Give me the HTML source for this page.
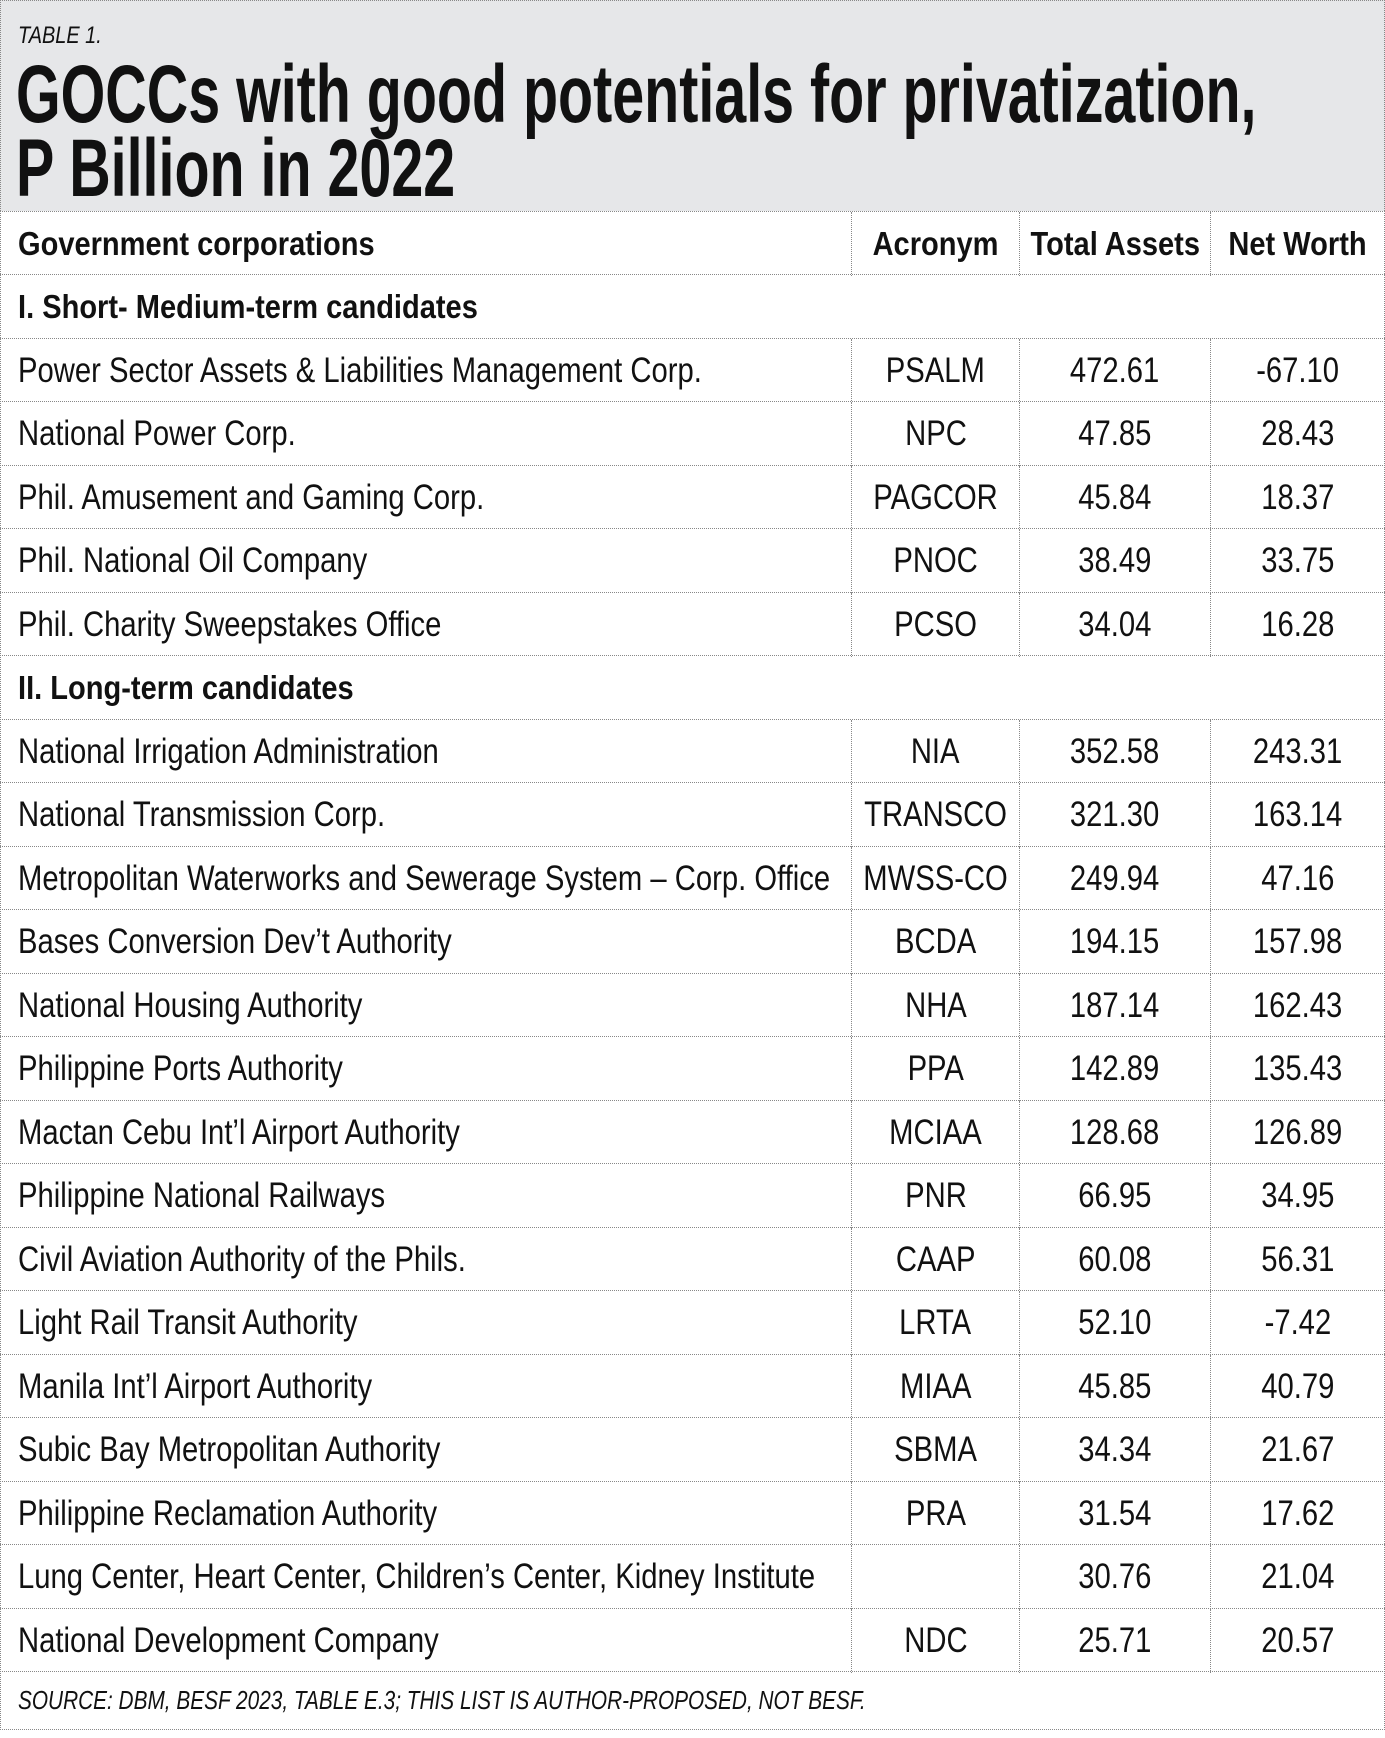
<!DOCTYPE html>
<html><head><meta charset="utf-8">
<style>
body{margin:0;background:#fff;}
#wrap{position:relative;width:1385px;height:1738px;background:#fff;font-family:"Liberation Sans",sans-serif;color:#111;overflow:hidden}
.hd{position:absolute;left:0;top:0;width:1383px;height:210px;background:#e6e7e9;border:1px dotted #888;border-bottom:none}
.s{display:inline-block;white-space:nowrap;transform-origin:left center}
.c{position:absolute;display:flex;align-items:center;white-space:nowrap}
.row{position:absolute;left:0;width:1385px;height:63px;border-top:1px dotted #888}
.cell{position:absolute;top:0;height:64px;display:flex;align-items:center;font-size:35px}
.cell .s{transform:scaleX(.835)}
.l{left:18px}
.m{justify-content:center;border-left:1px dotted #888;box-sizing:border-box}
.a{left:851px;width:168px}
.t{left:1019px;width:191px}
.n{left:1210px;width:175px}
.m .s{transform-origin:center center}
.b{font-weight:bold;font-size:33px}
.b .s{transform:scaleX(.88)}
.vl{position:absolute;top:211px;height:1460px;border-left:1px dotted #888}
</style></head>
<body>
<div id="wrap">
<div class="hd"></div>
<div class="c" style="left:18px;top:22px;height:28px;font-size:24px;font-style:italic"><span class="s" style="transform:scaleX(.83)">TABLE 1.</span></div>
<div class="c" style="left:16px;top:50px;height:90px;font-size:82px;font-weight:bold"><span class="s" style="transform:scaleX(.70)">GOCCs with good potentials for privatization,</span></div>
<div class="c" style="left:16px;top:124px;height:90px;font-size:82px;font-weight:bold"><span class="s" style="transform:scaleX(.70)">P Billion in 2022</span></div>

<div id="rows"></div>
<div class="vl" style="left:0;height:1517px"></div>
<div class="vl" style="left:1384px;height:1517px"></div>
<div class="row" style="top:1671px;height:57px;border-bottom:1px dotted #888">
 <div class="cell l" style="height:57px;font-size:26px;font-style:italic"><span class="s" style="transform:scaleX(.8)">SOURCE: DBM, BESF 2023, TABLE E.3; THIS LIST IS AUTHOR-PROPOSED, NOT BESF.</span></div>
</div>
</div>
<script>
const names=["Power Sector Assets & Liabilities Management Corp.","National Power Corp.","Phil. Amusement and Gaming Corp.","Phil. National Oil Company","Phil. Charity Sweepstakes Office",null,"National Irrigation Administration","National Transmission Corp.","Metropolitan Waterworks and Sewerage System – Corp. Office","Bases Conversion Dev’t Authority","National Housing Authority","Philippine Ports Authority","Mactan Cebu Int’l Airport Authority","Philippine National Railways","Civil Aviation Authority of the Phils.","Light Rail Transit Authority","Manila Int’l Airport Authority","Subic Bay Metropolitan Authority","Philippine Reclamation Authority","Lung Center, Heart Center, Children’s Center, Kidney Institute","National Development Company"];
const acr=["PSALM","NPC","PAGCOR","PNOC","PCSO",null,"NIA","TRANSCO","MWSS-CO","BCDA","NHA","PPA","MCIAA","PNR","CAAP","LRTA","MIAA","SBMA","PRA","","NDC"];
const assets=["472.61","47.85","45.84","38.49","34.04",null,"352.58","321.30","249.94","194.15","187.14","142.89","128.68","66.95","60.08","52.10","45.85","34.34","31.54","30.76","25.71"];
const worth=["-67.10","28.43","18.37","33.75","16.28",null,"243.31","163.14","47.16","157.98","162.43","135.43","126.89","34.95","56.31","-7.42","40.79","21.67","17.62","21.04","20.57"];
const rows=document.getElementById('rows');
const rh=63.5;
function mk(top,name){const r=document.createElement('div');r.className='row';r.style.top=top+'px';


rows.appendChild(r);return r;}
function cell(r,cls,txt,name){const d=document.createElement('div');d.className='cell '+cls;


const s=document.createElement('span');s.className='s';s.textContent=txt;d.appendChild(s);r.appendChild(d);}
let h=mk(211,'header-row');
cell(h,'l b','Government corporations','col-header-name');
cell(h,'a m b','Acronym','col-header-acronym');
cell(h,'t m b','Total Assets','col-header-assets');
cell(h,'n m b','Net Worth','col-header-networth');
let s1=mk(274,'section-row');
cell(s1,'l b','I. Short- Medium-term candidates','section-label');
names.forEach((n,i)=>{
 const top=Math.round(274+rh*(i+1));
 if(n===null){const r=mk(top,'section-row');cell(r,'l b','II. Long-term candidates','section-label');return;}
 const r=mk(top,'data-row');
 cell(r,'l',n,'corp-name');
 cell(r,'a m',acr[i],'acronym');
 cell(r,'t m',assets[i],'total-assets');
 cell(r,'n m',worth[i],'net-worth');
});
</script>
</body></html>
